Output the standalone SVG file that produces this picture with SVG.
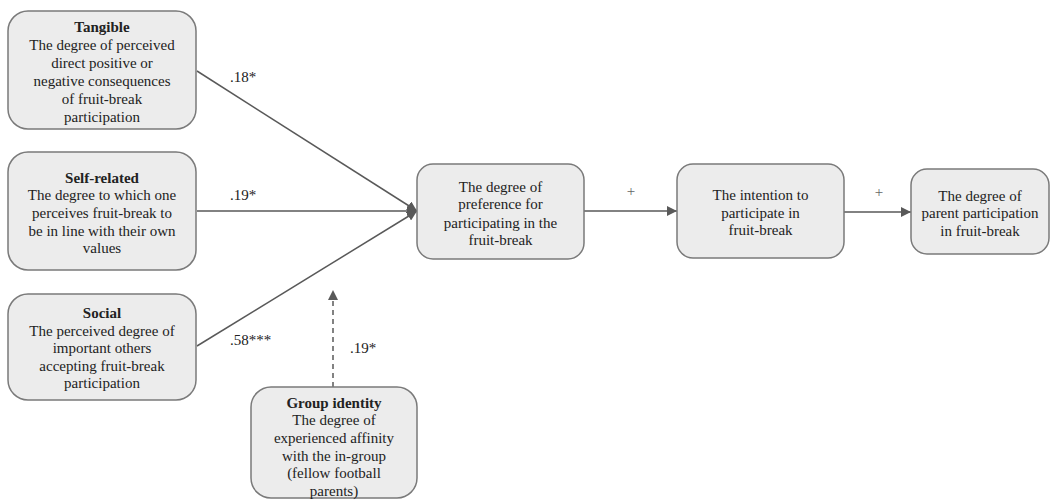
<svg xmlns="http://www.w3.org/2000/svg" width="1055" height="500" viewBox="0 0 1055 500">
<defs>
<marker id="ah" viewBox="0 0 10 10" refX="10" refY="5" markerWidth="10" markerHeight="10" markerUnits="userSpaceOnUse" orient="auto">
<path d="M0,0 L10,5 L0,10 Z" fill="#595959"/>
</marker>
<style>
.box{fill:#ececec;stroke:#7a7a7a;stroke-width:1.5}
.t{font-family:"Liberation Serif","Times New Roman",serif;font-size:15px;fill:#222;text-anchor:middle}
.b{font-weight:bold}
.lab{font-family:"Liberation Serif","Times New Roman",serif;font-size:15px;fill:#222}
.plus{font-family:"Liberation Serif","Times New Roman",serif;font-size:15px;fill:#666;text-anchor:middle}
.ln{stroke:#595959;stroke-width:1.5;fill:none;marker-end:url(#ah)}
.dash{stroke:#595959;stroke-width:1.5;fill:none;stroke-dasharray:5,4;marker-end:url(#ah)}
</style>
</defs>
<rect width="1055" height="500" fill="#ffffff"/>
<g id="connectors">
<line class="ln" x1="197" y1="71" x2="417" y2="211"/>
<line class="ln" x1="197" y1="211" x2="417" y2="211"/>
<line class="ln" x1="197" y1="346" x2="417" y2="211"/>
<line class="dash" x1="333" y1="387" x2="333" y2="290"/>
<line class="ln" x1="584" y1="211" x2="677" y2="211"/>
<line class="ln" x1="844" y1="212" x2="911" y2="212"/>
<text class="lab" x="230" y="82">.18*</text>
<text class="lab" x="230" y="200">.19*</text>
<text class="lab" x="230" y="345">.58***</text>
<text class="lab" x="350" y="353">.19*</text>
<text class="plus" x="631" y="196">+</text>
<text class="plus" x="879" y="197">+</text>
</g>
<g id="tangible">
<rect class="box" x="8" y="11" width="188" height="118" rx="20"/>
<text class="t b" x="102" y="32">Tangible</text>
<text class="t" x="102" y="50">The degree of perceived</text>
<text class="t" x="102" y="68">direct positive or</text>
<text class="t" x="102" y="86">negative consequences</text>
<text class="t" x="102" y="104">of fruit-break</text>
<text class="t" x="102" y="122">participation</text>
</g>
<g id="self-related">
<rect class="box" x="8" y="152" width="188" height="118" rx="20"/>
<text class="t b" x="102" y="183">Self-related</text>
<text class="t" x="102" y="200">The degree to which one</text>
<text class="t" x="102" y="218">perceives fruit-break to</text>
<text class="t" x="102" y="236">be in line with their own</text>
<text class="t" x="102" y="253">values</text>
</g>
<g id="social">
<rect class="box" x="8" y="294" width="188" height="106" rx="20"/>
<text class="t b" x="102" y="318">Social</text>
<text class="t" x="102" y="336">The perceived degree of</text>
<text class="t" x="102" y="353">important others</text>
<text class="t" x="102" y="371">accepting fruit-break</text>
<text class="t" x="102" y="388">participation</text>
</g>
<g id="group-identity">
<rect class="box" x="251" y="387" width="166" height="111" rx="20"/>
<text class="t b" x="334" y="408">Group identity</text>
<text class="t" x="334" y="425">The degree of</text>
<text class="t" x="334" y="443">experienced affinity</text>
<text class="t" x="334" y="461">with the in-group</text>
<text class="t" x="334" y="478">(fellow football</text>
<text class="t" x="334" y="496">parents)</text>
</g>
<g id="preference">
<rect class="box" x="417" y="164" width="167" height="95" rx="16"/>
<text class="t" x="500.5" y="192">The degree of</text>
<text class="t" x="500.5" y="209">preference for</text>
<text class="t" x="500.5" y="228">participating in the</text>
<text class="t" x="500.5" y="245">fruit-break</text>
</g>
<g id="intention">
<rect class="box" x="677" y="164" width="167" height="94" rx="16"/>
<text class="t" x="760.5" y="200">The intention to</text>
<text class="t" x="760.5" y="218">participate in</text>
<text class="t" x="760.5" y="235">fruit-break</text>
</g>
<g id="participation">
<rect class="box" x="911" y="169" width="138" height="85" rx="16"/>
<text class="t" x="980" y="201">The degree of</text>
<text class="t" x="980" y="218">parent participation</text>
<text class="t" x="980" y="236">in fruit-break</text>
</g>
</svg>
